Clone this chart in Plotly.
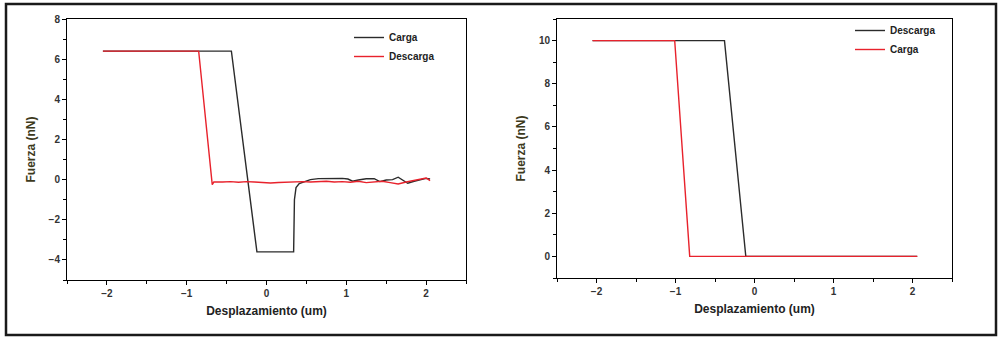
import plotly.graph_objects as go

# ---------- Data: left panel ----------
left_carga_x = [-2.05, -0.44, -0.12, 0.34, 0.35, 0.37, 0.41, 0.47, 0.55, 0.65, 0.75, 0.85, 0.95,
                1.02, 1.08, 1.15, 1.25, 1.35, 1.42, 1.50, 1.58, 1.65, 1.70, 1.77, 1.85, 1.92, 2.00, 2.05]
left_carga_y = [6.4, 6.4, -3.6, -3.6, -1.0, -0.4, -0.2, -0.1, 0.0, 0.05, 0.06, 0.05, 0.06,
                0.03, -0.08, -0.02, 0.04, 0.05, -0.10, -0.02, 0.0, 0.12, 0.0, -0.18, -0.08, 0.0, 0.06, 0.03]

left_descarga_x = [-2.05, -0.85, -0.68, -0.66, -0.55, -0.45, -0.35, -0.25, -0.15, -0.05, 0.05, 0.15,
                   0.25, 0.35, 0.45, 0.55, 0.65, 0.75, 0.85, 0.95, 1.05, 1.15, 1.25, 1.35, 1.45,
                   1.55, 1.65, 1.75, 1.85, 1.95, 2.00, 2.05]
left_descarga_y = [6.4, 6.4, -0.25, -0.12, -0.12, -0.10, -0.13, -0.10, -0.12, -0.14, -0.17, -0.14,
                   -0.12, -0.10, -0.10, -0.12, -0.10, -0.08, -0.12, -0.10, -0.13, -0.08, -0.15, -0.10, -0.08,
                   -0.15, -0.22, -0.12, -0.05, 0.05, 0.08, -0.05]

# ---------- Data: right panel ----------
right_descarga_x = [-2.05, -0.38, -0.11, 2.06]
right_descarga_y = [10.0, 10.0, 0.0, 0.0]
right_carga_x = [-2.05, -1.01, -0.82, 2.06]
right_carga_y = [10.0, 10.0, 0.0, 0.0]

x_ticks = [-2, -1, 0, 1, 2]
left_y_ticks = [-4, -2, 0, 2, 4, 6, 8]
right_y_ticks = [0, 2, 4, 6, 8, 10]

BLACK = "#2b2b2b"
RED = "#e8222c"
FONT = "Arial, Liberation Sans, sans-serif"

fig = go.Figure()
fig.add_trace(go.Scatter(x=left_carga_x, y=left_carga_y, mode="lines", name="Carga",
                         line=dict(color=BLACK, width=1.4), xaxis="x", yaxis="y", legend="legend"))
fig.add_trace(go.Scatter(x=left_descarga_x, y=left_descarga_y, mode="lines", name="Descarga",
                         line=dict(color=RED, width=1.4), xaxis="x", yaxis="y", legend="legend"))
fig.add_trace(go.Scatter(x=right_descarga_x, y=right_descarga_y, mode="lines", name="Descarga",
                         line=dict(color=BLACK, width=1.4), xaxis="x2", yaxis="y2", legend="legend2"))
fig.add_trace(go.Scatter(x=right_carga_x, y=right_carga_y, mode="lines", name="Carga",
                         line=dict(color=RED, width=1.4), xaxis="x2", yaxis="y2", legend="legend2"))

W, H = 1003, 340
T, B = 19, 60
plot_h = H - T - B

def py(px):
    """pixel row -> paper y"""
    return (H - B - px) / plot_h

tickfont = dict(family=FONT, size=10, color="#333333", weight="bold")
titlefont = dict(family=FONT, size=12, color="#222222", weight="bold")
ytitlefont = dict(family=FONT, size=12, color="#3d3a1c", weight="bold")

def xaxis_cfg(domain, anchor):
    return dict(domain=domain, anchor=anchor, range=[-2.5, 2.5], tickvals=x_ticks,
                ticks="outside", ticklen=4, tickwidth=1, tickcolor="black",
                minor=dict(dtick=0.5, tick0=0, ticks="outside", ticklen=3, tickcolor="black"),
                showline=True, linecolor="black", linewidth=1, mirror=True,
                showgrid=False, zeroline=False, tickfont=tickfont, automargin=False,
                title=dict(text="Desplazamiento (um)", font=titlefont, standoff=8))

def yaxis_cfg(domain, anchor, rng, tv):
    return dict(domain=domain, anchor=anchor, range=rng, tickvals=tv,
                ticks="outside", ticklen=4, tickwidth=1, tickcolor="black",
                minor=dict(dtick=1, tick0=0, ticks="outside", ticklen=3, tickcolor="black"),
                showline=True, linecolor="black", linewidth=1, mirror=True,
                showgrid=False, zeroline=False, tickfont=tickfont, automargin=False,
                title=dict(text="Fuerza (nN)", font=ytitlefont, standoff=10))

legfont = dict(family=FONT, size=10, color="#222222", weight="bold")

fig.update_layout(
    width=W, height=H,
    margin=dict(l=0, r=0, t=T, b=B, autoexpand=False),
    paper_bgcolor="white", plot_bgcolor="white",
    xaxis=xaxis_cfg([67 / W, 466 / W], "y"),
    yaxis=yaxis_cfg([0, 1], "x", [-5, 8], left_y_ticks),
    xaxis2=xaxis_cfg([557 / W, 952 / W], "y2"),
    yaxis2=yaxis_cfg([2 / plot_h, 1], "x2", [-1, 11], right_y_ticks),
    legend=dict(x=349 / W, y=py(23), xanchor="left", yanchor="top",
                bgcolor="rgba(0,0,0,0)", font=legfont, tracegroupgap=0),
    legend2=dict(x=850 / W, y=py(16), xanchor="left", yanchor="top",
                 bgcolor="rgba(0,0,0,0)", font=legfont, tracegroupgap=0),
    showlegend=True,
)

# outer frame around the whole figure
fig.add_shape(type="rect", xref="paper", yref="paper",
              x0=6 / W, x1=996 / W, y0=py(335), y1=py(4),
              line=dict(color="#1a1a1a", width=2.5), fillcolor="rgba(0,0,0,0)", layer="below")

fig.write_html("out.html", config={"displayModeBar": False},
               post_script="document.body.style.margin='0';document.body.style.overflow='hidden';")
